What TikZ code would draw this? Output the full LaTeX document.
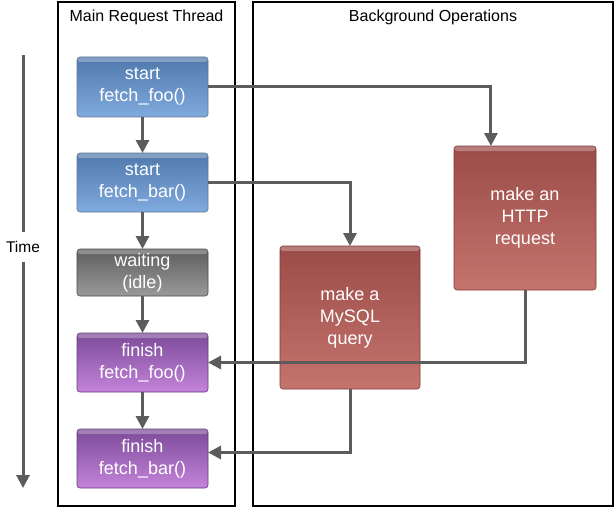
\documentclass[tikz,border=0pt]{standalone}
\usepackage{fontspec}
\setmainfont{Liberation Sans}
\usetikzlibrary{arrows.meta,calc}
\definecolor{conn}{HTML}{5C5C5C}
\definecolor{bluetop}{HTML}{5078AC}
\definecolor{bluebot}{HTML}{80ABDF}
\definecolor{graytop}{HTML}{5E5E5E}
\definecolor{graybot}{HTML}{9A9A9A}
\definecolor{purtop}{HTML}{7C4B98}
\definecolor{purbot}{HTML}{C383DA}
\definecolor{redtop}{HTML}{9B4C48}
\definecolor{redbot}{HTML}{C5736D}
\tikzset{
  lane/.style={draw=black,line width=1.3pt},
  lanetitle/.style={font=\fontsize{16}{18}\selectfont,inner sep=0pt},
  box/.style={rounded corners=3pt,outer sep=0pt,inner sep=0pt,align=center,
    text=white,font=\fontsize{18}{22}\selectfont,line width=0.6pt,
    path picture={\fill[white,opacity=0.28] (path picture bounding box.north west) rectangle ([yshift=-5pt]path picture bounding box.north east);}},
  bluebox/.style={box,top color=bluetop,bottom color=bluebot,draw=bluetop!70!black!80},
  graybox/.style={box,top color=graytop,bottom color=graybot,draw=graytop!80!black},
  purbox/.style={box,top color=purtop,bottom color=purbot,draw=purtop!80!black},
  redbox/.style={box,top color=redtop,bottom color=redbot,draw=redtop!80!black},
  conn/.style={draw=conn,line width=3pt},
  arr/.style={conn,-{Triangle[length=13pt,width=13pt]}},
}
\begin{document}
\begin{tikzpicture}[x=1pt,y=-1pt]
\useasboundingbox (0,0) rectangle (615,508);
% lanes
\draw[lane] (58,2) rectangle (235,506);
\draw[lane] (253,2) rectangle (613,506);
\node[lanetitle] (t1) at (146.5,17) {Main Request Thread};
\node[lanetitle] (t2) at (433,17) {Background Operations};
% time
\coordinate (ts) at (23,55);
\coordinate (te) at (23,488);
\node[font=\fontsize{15.5}{18}\selectfont,inner sep=0pt] (time) at (23,247) {Time};
\draw[conn] (ts) -- ([yshift=15pt]time.center);
\draw[arr] ([yshift=-15pt]time.center) -- (te);
% main boxes
\node[bluebox,minimum width=131pt,minimum height=60pt] (b1) at (142.5,87) {start\\fetch\_foo()};
\node[bluebox,minimum width=131pt,minimum height=59pt] (b2) at (142.5,182.5) {start\\fetch\_bar()};
\node[graybox,minimum width=131pt,minimum height=47pt] (w) at (142.5,272.5) {waiting\\(idle)};
\node[purbox,minimum width=131pt,minimum height=59pt] (p1) at (142.5,362.5) {finish\\fetch\_foo()};
\node[purbox,minimum width=131pt,minimum height=59pt] (p2) at (142.5,458.5) {finish\\fetch\_bar()};
% background boxes
\node[redbox,minimum width=142pt,minimum height=144pt] (http) at (525,218) {make an\\HTTP\\request};
\node[redbox,minimum width=140pt,minimum height=143pt] (sql) at (350,317.5) {make a\\MySQL\\query};
% vertical arrows
\draw[arr] (b1) -- (b2);
\draw[arr] (b2) -- (w);
\draw[arr] (w) -- (p1);
\draw[arr] (p1) -- (p2);
% connectors
\draw[arr] (b1.east) -| ($(http.north west)!0.26!(http.north east)$);
\draw[arr] (b2.east) -| (sql.north);
\draw[arr] (http.south) |- (p1.east);
\draw[arr] (sql.south) |- ([yshift=6pt]p2.east);
\end{tikzpicture}
\end{document}
